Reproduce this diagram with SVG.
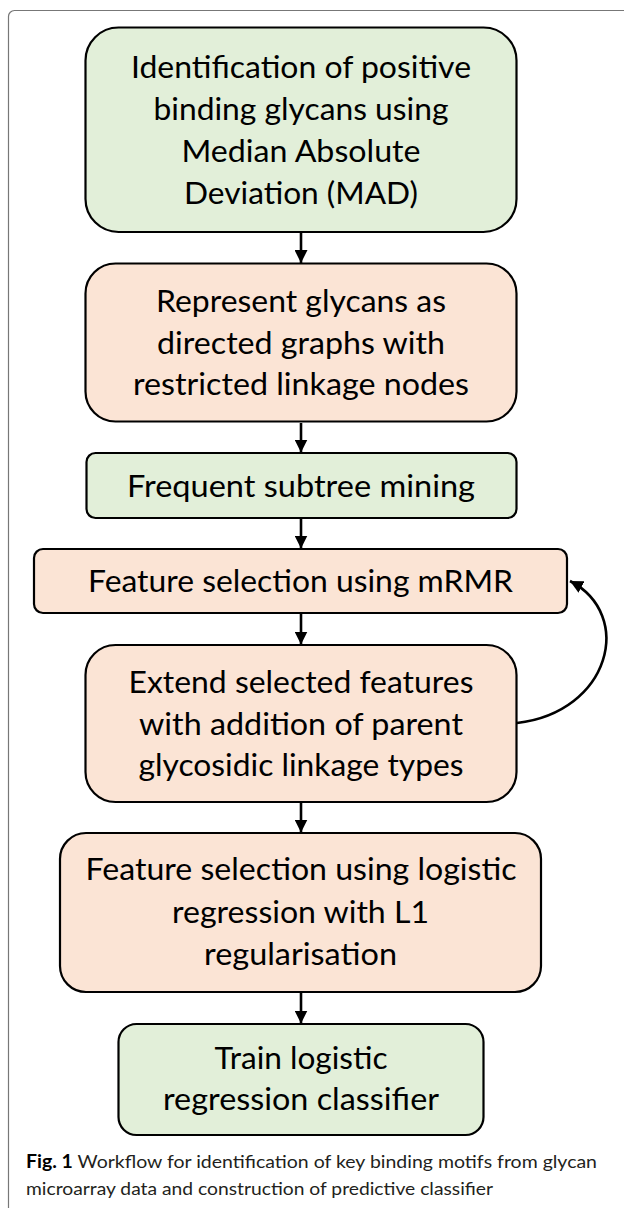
<svg xmlns="http://www.w3.org/2000/svg" width="624" height="1208" viewBox="0 0 624 1208">
<style>
.box{stroke:#000;stroke-width:2.2}
.g{fill:#e2efd9}
.p{fill:#fbe4d5}
.t{font-family:Lato,"Liberation Sans",sans-serif;font-size:30px;fill:#000;text-anchor:middle}
.cap{font-family:Lato,"Liberation Sans",sans-serif;font-size:18px;fill:#231f20}
.conn{stroke:#000;stroke-width:2.6;fill:none}
</style>
<defs>
<marker id="ah" viewBox="0 0 12 12" refX="12" refY="6" markerWidth="13" markerHeight="13" markerUnits="userSpaceOnUse" orient="auto">
<path d="M0,0 L12,6 L0,12 z" fill="#000"/>
</marker>
</defs>
<rect x="8.5" y="10.5" width="640" height="1230" rx="6" fill="#fff" stroke="#777" stroke-width="1.2"/>
<g id="n1">
<rect class="box g" x="85.5" y="27.5" width="431" height="204.5" rx="33"/>
<text class="t" x="301" y="78" textLength="340" lengthAdjust="spacingAndGlyphs">Identification of positive</text>
<text class="t" x="301" y="119.5" textLength="295" lengthAdjust="spacingAndGlyphs">binding glycans using</text>
<text class="t" x="301" y="161.5" textLength="239" lengthAdjust="spacingAndGlyphs">Median Absolute</text>
<text class="t" x="301" y="203.5" textLength="234" lengthAdjust="spacingAndGlyphs">Deviation (MAD)</text>
</g>
<g id="n2">
<rect class="box p" x="85.5" y="263.5" width="431" height="158" rx="30"/>
<text class="t" x="301" y="312" textLength="290" lengthAdjust="spacingAndGlyphs">Represent glycans as</text>
<text class="t" x="301" y="353.5" textLength="288" lengthAdjust="spacingAndGlyphs">directed graphs with</text>
<text class="t" x="301" y="395" textLength="336" lengthAdjust="spacingAndGlyphs">restricted linkage nodes</text>
</g>
<g id="n3">
<rect class="box g" x="86.5" y="453" width="430" height="65" rx="9"/>
<text class="t" x="301" y="497" textLength="348" lengthAdjust="spacingAndGlyphs">Frequent subtree mining</text>
</g>
<g id="n4">
<rect class="box p" x="34" y="549" width="533" height="64" rx="9"/>
<text class="t" x="300.5" y="592" textLength="425" lengthAdjust="spacingAndGlyphs">Feature selection using mRMR</text>
</g>
<g id="n5">
<rect class="box p" x="85.5" y="645" width="431" height="157" rx="30"/>
<text class="t" x="301" y="693" textLength="345" lengthAdjust="spacingAndGlyphs">Extend selected features</text>
<text class="t" x="301" y="734.5" textLength="324" lengthAdjust="spacingAndGlyphs">with addition of parent</text>
<text class="t" x="301" y="776" textLength="325" lengthAdjust="spacingAndGlyphs">glycosidic linkage types</text>
</g>
<g id="n6">
<rect class="box p" x="60" y="833" width="481" height="159" rx="26"/>
<text class="t" x="301" y="880" textLength="431" lengthAdjust="spacingAndGlyphs">Feature selection using logistic</text>
<text class="t" x="300.5" y="923" textLength="257" lengthAdjust="spacingAndGlyphs">regression with L1</text>
<text class="t" x="300.5" y="965" textLength="193" lengthAdjust="spacingAndGlyphs">regularisation</text>
</g>
<g id="n7">
<rect class="box g" x="118.5" y="1024" width="365" height="111" rx="18"/>
<text class="t" x="301" y="1068.5" textLength="173" lengthAdjust="spacingAndGlyphs">Train logistic</text>
<text class="t" x="301" y="1110" textLength="276" lengthAdjust="spacingAndGlyphs">regression classifier</text>
</g>
<g id="connectors">
<line class="conn" x1="301" y1="233" x2="301" y2="263" marker-end="url(#ah)"/>
<line class="conn" x1="301" y1="423" x2="301" y2="452.5" marker-end="url(#ah)"/>
<line class="conn" x1="301" y1="519" x2="301" y2="548.5" marker-end="url(#ah)"/>
<line class="conn" x1="301" y1="614" x2="301" y2="644.5" marker-end="url(#ah)"/>
<line class="conn" x1="301" y1="803" x2="301" y2="832.5" marker-end="url(#ah)"/>
<line class="conn" x1="301" y1="993" x2="301" y2="1023.5" marker-end="url(#ah)"/>
<path class="conn" d="M517,723 C610,712 635,615 570,581" marker-end="url(#ah)"/>
</g>
<g id="caption">
<text class="cap" x="26" y="1168" textLength="571" lengthAdjust="spacingAndGlyphs"><tspan font-weight="bold" fill="#000">Fig. 1</tspan> Workflow for identification of key binding motifs from glycan</text>
<text class="cap" x="26" y="1195" textLength="467" lengthAdjust="spacingAndGlyphs">microarray data and construction of predictive classifier</text>
</g>
</svg>
